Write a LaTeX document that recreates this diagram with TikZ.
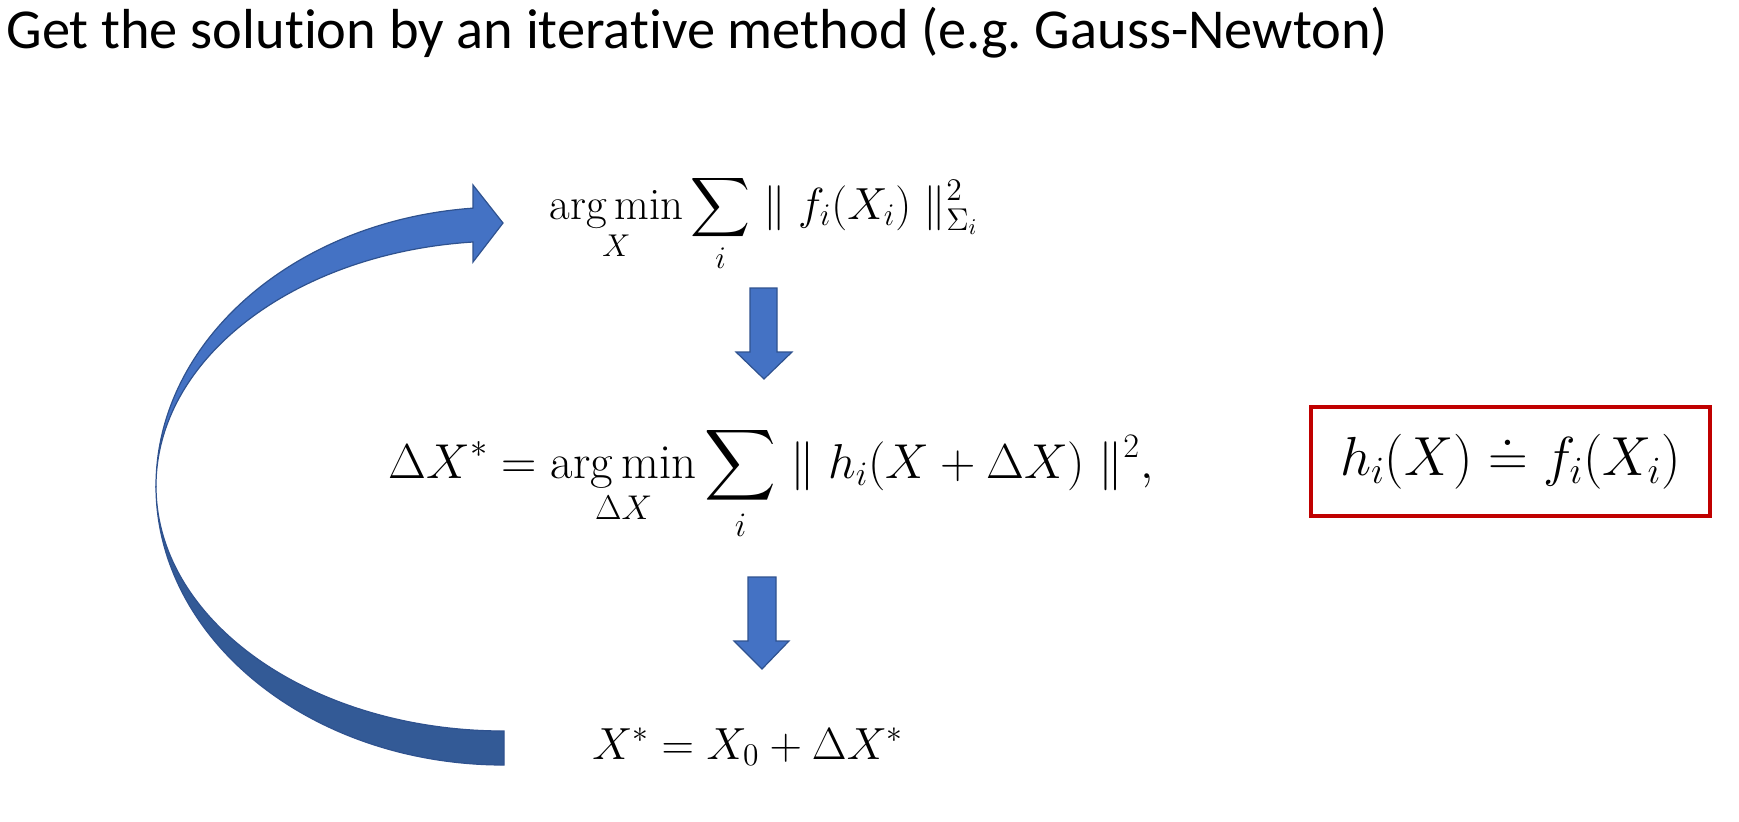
\RequirePackage{fix-cm}
\documentclass[tikz,border=0pt]{standalone}
\usepackage{amsmath}
\usepackage{fontspec}
\newfontfamily\titlefont[Ligatures={NoCommon,NoRequired}]{Carlito}
\usepackage{tikz}
\definecolor{arrowblue}{HTML}{4472C4}
\definecolor{arrowdark}{HTML}{335A96}
\definecolor{arrowline}{HTML}{2F528F}
\definecolor{boxred}{HTML}{C00000}
\tikzset{
every picture/.style={
line width=0.5pt
}}

\begin{document}
\begin{tikzpicture}[x=0.5pt, y=-0.5pt,
formula/.style = {anchor=base, inner sep=0pt, font=\fontsize{22.5}{27}\selectfont},
blockarrow/.style = {fill=arrowblue, draw=arrowline, line width=0.6pt}]

\useasboundingbox (0,0) rectangle (1739,821);

\node[anchor=base west, inner sep=0pt, font=\titlefont\fontsize{28.2}{33}\selectfont] (title) at (6,48) {\frenchspacing Get the solution by an iterative method (e.g. Gauss-Newton)};

\node[formula] (cost) at (764,219) {$\displaystyle \operatorname*{arg\,min}_{X} \sum_{i} \parallel f_i(X_i) \parallel^2_{\Sigma_i}$};
\node[formula, font=\fontsize{24.5}{29}\selectfont] (step) at (771,478) {$\displaystyle \Delta X^* = \operatorname*{arg\,min}_{\Delta X} \sum_{i} \parallel h_i(X+\Delta X) \parallel^2,$};
\node[formula] (update) at (748,759) {$X^* = X_0 + \Delta X^*$};
\node[draw=boxred, line width=2pt, minimum width=199.5pt, minimum height=54.5pt, inner sep=0pt, font=\fontsize{27.5}{33}\selectfont] (defbox) at (1510.5,461.5) {$h_i(X) \doteq f_i(X_i)$};

% down arrows
\draw[blockarrow] (750,288) -- (777,288) -- (777,352) -- (792,352) -- (764,379) -- (736,352) -- (750,352) -- cycle;
\draw[blockarrow] (748,577) -- (776,577) -- (776,641) -- (789,641) -- (762,669) -- (734,641) -- (748,641) -- cycle;

% curved arrow back to the top
\draw[blockarrow, fill=arrowdark] (156,486) arc [start angle=180, end angle=90, x radius=348, y radius=279] -- (504,731) arc [start angle=90, end angle=180, x radius=348, y radius=245] -- cycle;
\draw[blockarrow] (156,486) arc [start angle=180, end angle=264.89, x radius=348, y radius=279] -- (473,185) -- (503,223) -- (473,262) -- (473,242) arc [start angle=264.89, end angle=180, x radius=348, y radius=245] -- cycle;
\end{tikzpicture}
\end{document}
